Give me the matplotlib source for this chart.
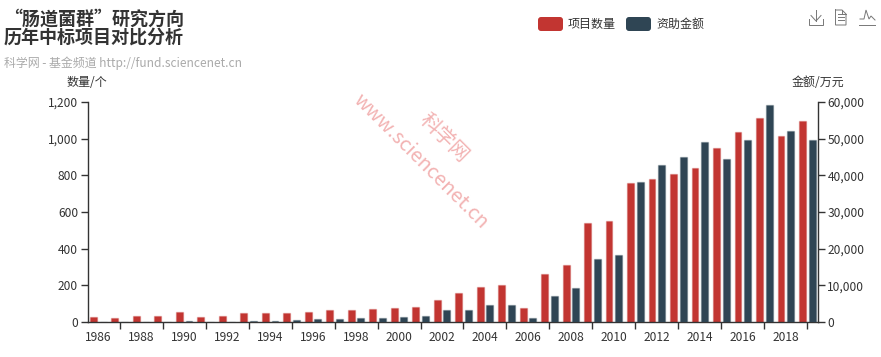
import matplotlib
matplotlib.use("Agg")
import matplotlib.pyplot as plt
from matplotlib.colors import to_rgba
from matplotlib.lines import Line2D
from matplotlib.patches import FancyBboxPatch
from matplotlib.ticker import FuncFormatter, MultipleLocator

plt.rcParams['font.family'] = ['Noto Sans CJK SC', 'DejaVu Sans']

W, H = 881, 357
years = list(range(1986, 2020))
project_counts = [30, 22, 33, 33, 52, 30, 35, 48, 48, 50, 53, 66, 64, 69, 76, 80, 122, 156,
                  191, 204, 75, 260, 311, 538, 550, 760, 778, 808, 842, 950, 1035, 1112, 1015, 1098]
funding = [60, 60, 60, 70, 150, 70, 120, 300, 300, 500, 700, 900, 1200, 1090, 1270, 1545,
           3180, 3180, 4545, 4640, 1000, 7000, 9360, 17270, 18270, 38300, 42800, 45000, 49000,
           44500, 49700, 59300, 52100, 49700]
series_names = ['项目数量', '资助金额']
title_lines = ['“肠道菌群”研究方向', '历年中标项目对比分析']
subtitle = '科学网 - 基金频道 http://fund.sciencenet.cn'
left_name, right_name = '数量/个', '金额/万元'
RED, NAVY, INK = '#c23531', '#2f4554', '#333333'


def fx(x):
    return x / W


def fy(y):
    return 1 - y / H


fig = plt.figure(figsize=(W / 100, H / 100), dpi=100, facecolor='white')
ax = fig.add_axes([fx(87.5), fy(322), fx(818 - 87.5), (322 - 102) / H])
ax2 = ax.twinx()

pos = list(range(len(years)))
bw, off = 0.32, 0.225
ax.bar([p - off for p in pos], project_counts, bw, color=RED,
       edgecolor=to_rgba(RED, 0.3), linewidth=1)
ax2.bar([p + off for p in pos], funding, bw, color=NAVY,
        edgecolor=to_rgba(NAVY, 0.3), linewidth=1)

ax.set_xlim(-0.5, len(years) - 0.5)
ax.set_ylim(0, 1200)
ax2.set_ylim(0, 60000)
ax.yaxis.set_major_locator(MultipleLocator(200))
ax2.yaxis.set_major_locator(MultipleLocator(10000))
fmt = FuncFormatter(lambda v, _: f'{int(v):,}')
ax.yaxis.set_major_formatter(fmt)
ax2.yaxis.set_major_formatter(fmt)

ax.set_xticks(pos[1::2])
ax.set_xticklabels([])
ax.set_xticks(pos[0::2], [str(y) for y in years[0::2]], minor=True)
ax.tick_params(axis='x', which='major', length=5, width=1, color=INK)
ax.tick_params(axis='x', which='minor', length=0, pad=6.2, labelsize=8.64, labelcolor=INK)
for a in (ax, ax2):
    a.tick_params(axis='y', length=5, width=1, color=INK, pad=1.8, labelsize=8.64, labelcolor=INK)
    for s in a.spines.values():
        s.set_color(INK)
        s.set_linewidth(1)
    a.spines['top'].set_visible(False)
ax.spines['right'].set_visible(False)
ax2.spines['left'].set_visible(False)
ax2.spines['bottom'].set_visible(False)

fig.text(fx(4), fy(28.5), '\n'.join(title_lines), fontsize=13, fontweight='bold', color=INK,
         va='center', linespacing=0.92)
fig.text(fx(4), fy(63.5), subtitle, fontsize=8.6, color='#aaaaaa', va='center')
fig.text(fx(87), fy(82), left_name, fontsize=8.64, color=INK, ha='center', va='center')
fig.text(fx(818), fy(82), right_name, fontsize=8.64, color=INK, ha='center', va='center')

# legend
for x0, col, name in [(538, RED, series_names[0]), (626, NAVY, series_names[1])]:
    fig.add_artist(FancyBboxPatch((x0 + 3, H - 31 + 3), 19, 8, boxstyle='round,pad=3,rounding_size=3',
                                  transform=None, facecolor=col, edgecolor='none'))
    fig.text(fx(x0 + 30), fy(24.7), name, fontsize=8.64, color=INK, va='center')

# watermark
fig.text(fx(420.5), fy(161), 'www.sciencenet.cn', fontsize=14.4, color=to_rgba('#e04040', 0.4), rotation=-45,
         ha='center', va='center', rotation_mode='anchor')
fig.text(fx(443.5), fy(138), '科学网', fontsize=14.4, color=to_rgba('#e04040', 0.4), rotation=-45,
         ha='center', va='center', rotation_mode='anchor')


# toolbox icons
def icon(xs, ys):
    fig.add_artist(Line2D([fx(v) for v in xs], [fy(v) for v in ys], transform=fig.transFigure,
                          color='#777777', lw=0.7, solid_joinstyle='miter'))


icon([809, 809, 823, 823], [19, 24.5, 24.5, 19])
icon([816, 816], [9.5, 21])
icon([811, 816, 821], [15.5, 21, 15.5])
icon([835.5, 842, 846, 846, 835.5, 835.5], [10, 10, 14, 25, 25, 10])
icon([842, 842, 846], [10, 14, 14])
icon([838, 844], [14, 14])
icon([838, 844], [17, 17])
icon([838, 844], [20, 20])
icon([859, 875], [24.5, 24.5])
icon([860, 864, 866, 869, 871, 875], [19, 19, 10, 19, 16, 20])

fig.savefig('out.png', dpi=100, facecolor='white')
